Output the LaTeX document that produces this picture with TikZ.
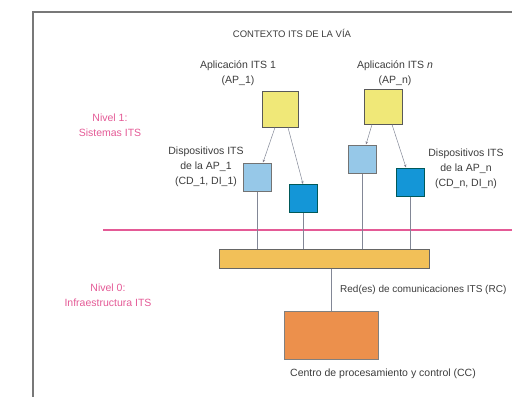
\documentclass[tikz,border=0pt]{standalone}
\usepackage{fontspec}
\setmainfont{Liberation Sans}
\usetikzlibrary{arrows.meta, positioning}
\definecolor{framegray}{RGB}{120,120,120}
\definecolor{textgray}{RGB}{60,60,60}
\definecolor{nivelpink}{RGB}{228,90,150}
\definecolor{appyellow}{RGB}{240,232,120}
\definecolor{devlight}{RGB}{150,200,232}
\definecolor{devdark}{RGB}{20,150,215}
\definecolor{redorange}{RGB}{242,192,88}
\definecolor{ccorange}{RGB}{236,144,76}
\definecolor{linkgray}{RGB}{130,135,150}

\begin{document}
\begin{tikzpicture}[x=1pt, y=-1pt,
    txt/.style={text=textgray, font=\fontsize{10.5}{15}\selectfont, align=center, inner sep=0pt},
    nivel/.style={text=nivelpink, font=\fontsize{10.5}{15}\selectfont, align=center, inner sep=0pt},
    apbox/.style={draw=black!65, fill=appyellow, line width=1pt, minimum width=36pt, minimum height=36pt, inner sep=0pt},
    devbox/.style={draw=black!55, fill=devlight, line width=1pt, minimum width=28pt, minimum height=28pt, inner sep=0pt},
    devboxb/.style={draw=teal!70!black, fill=devdark, line width=1pt, minimum width=28pt, minimum height=28pt, inner sep=0pt},
    link/.style={draw=linkgray, line width=0.5pt},
    arr/.style={link, -{Stealth[length=3pt, width=2.5pt, fill=red!70!black]}}]
    \useasboundingbox (0,0) rectangle (512,397);

    % Frame
    \coordinate (ftop) at (512,12);
    \coordinate (fcorner) at (33,12);
    \coordinate (fbottom) at (33,397);
    \draw[framegray, line width=1.2pt] (ftop) -- (fcorner) -- (fbottom);

    % Title and levels
    \node[txt, font=\fontsize{9.5}{12}\selectfont] (title) at (292,33) {CONTEXTO ITS DE LA VÍA};
    \node[nivel] (n1) at (110,125) {Nivel 1:\\Sistemas ITS};
    \node[nivel] (n0) at (108,295) {Nivel 0:\\Infraestructura ITS};

    % Applications
    \node[apbox] (ap1) at (280,109) {};
    \node[apbox, minimum width=38pt, minimum height=35pt] (apn) at (383,106.5) {};
    \node[txt] (ap1lbl) at (238,73.5) {Aplicación ITS 1\\(AP\_1)};
    \node[txt] (apnlbl) at (395,73.5) {Aplicación ITS \textit{n}\\(AP\_n)};

    % Devices
    \node[devbox] (cd1) at (257,177) {};
    \node[devboxb] (di1) at (303,198.5) {};
    \node[devbox] (cdn) at (362,159) {};
    \node[devboxb] (din) at (410,182) {};
    \node[txt] (dev1lbl) at (206,167) {Dispositivos ITS\\de la AP\_1\\(CD\_1, DI\_1)};
    \node[txt] (devnlbl) at (466,169) {Dispositivos ITS\\de la AP\_n\\(CD\_n, DI\_n)};

    % Level boundary
    \coordinate (pl) at (103,230);
    \coordinate (pr) at (512,230);
    \draw[nivelpink, line width=1.6pt] (pl) -- (pr);

    % Network and control centre
    \node[draw=black!60, fill=redorange, line width=1pt, minimum width=210pt, minimum height=19pt, inner sep=0pt] (red) at (324,258.5) {};
    \node[draw=black!50, fill=ccorange, line width=1pt, minimum width=94pt, minimum height=48pt, inner sep=0pt] (cc) at (331,335) {};
    \node[txt, anchor=west, font=\fontsize{10}{12}\selectfont] (redlbl) at (340,290) {Red(es) de comunicaciones ITS (RC)};
    \node[txt] (cclbl) at (383,374) {Centro de procesamiento y control (CC)};

    % Links
    \draw[arr] ([xshift=-5pt]ap1.south) -- ([xshift=6pt]cd1.north);
    \draw[arr] ([xshift=8pt]ap1.south) -- (di1.north);
    \draw[arr] ([xshift=-11pt]apn.south) -- ([xshift=4pt]cdn.north);
    \draw[arr] ([xshift=9pt]apn.south) -- ([xshift=-4pt]din.north);
    \foreach \dev in {cd1,di1,cdn,din} {
        \draw[link] (\dev.south) -- (\dev.south |- red.north);
    }
    \draw[link] (red.south -| cc.north) -- (cc.north);

\end{tikzpicture}
\end{document}
